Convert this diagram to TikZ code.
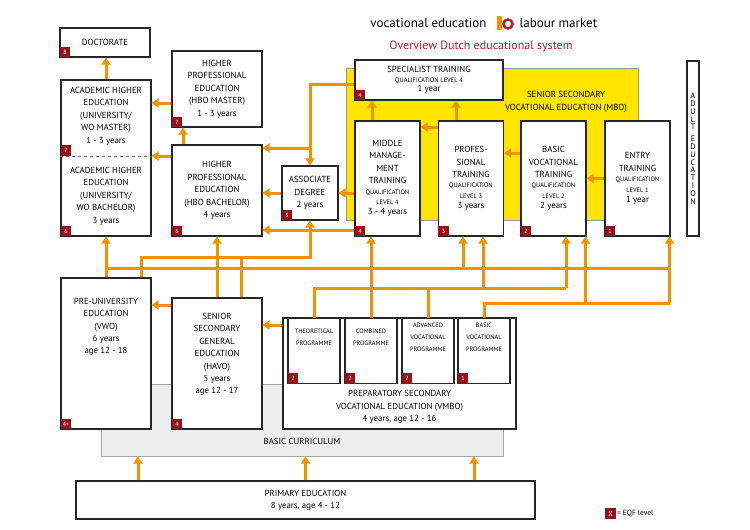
\documentclass[tikz,border=0pt]{standalone}
\usepackage{fontspec}
\setmainfont{PT Sans}
\usetikzlibrary{arrows.meta,positioning}
\definecolor{eduorange}{RGB}{243,146,0}
\definecolor{eqfred}{RGB}{150,20,25}
\definecolor{mboyellow}{RGB}{255,229,0}
\definecolor{titlered}{RGB}{180,30,40}
\newcommand{\qual}[1]{{\fontsize{6.4}{10}\selectfont #1}}
\tikzset{
  edu box/.style={draw=black!85,line width=1.1pt,fill=white,align=center,
    font=\fontsize{8.8}{12.4}\selectfont,inner sep=1pt},
  prog box/.style={edu box,minimum width=52pt,minimum height=65pt,anchor=north,
    font=\fontsize{6.3}{12}\selectfont,text depth=28pt},
  eqf/.style={fill=eqfred,text=white,font=\fontsize{6}{6}\selectfont,
    minimum size=10.5pt,inner sep=0pt,anchor=south west},
  flow/.style={draw=eduorange,line width=3pt},
  arr/.style={flow,-{Triangle[length=7pt,width=9pt]}},
}
\begin{document}
\begin{tikzpicture}[x=1pt,y=-1pt]
\useasboundingbox (0,0) rectangle (750,530);

% titles
\node[font=\fontsize{13}{13}\selectfont,anchor=east] (t1) at (490,23) {vocational education};
\node[font=\fontsize{13}{13}\selectfont,anchor=west] (t2) at (516,23) {labour market};
\fill[eduorange] (497,16) rectangle (502,30);
\draw[titlered,line width=2.5pt] (508,24) circle (4.5);
\node[font=\fontsize{12}{12}\selectfont,text=titlered] (t3) at (481,46) {Overview Dutch educational system};

% backgrounds
\node[fill=mboyellow,draw=black!40,minimum width=292pt,minimum height=152pt] (mbo) at (492,144) {};
\node[align=center,font=\fontsize{8.8}{12.4}\selectfont] (mbotxt) at (566,102) {SENIOR SECONDARY\\VOCATIONAL EDUCATION (MBO)};
\node[fill=black!7,draw=black!35,line width=1pt,minimum width=402pt,minimum height=72pt] (curr) at (302,420) {};
\node[font=\fontsize{8.8}{12.4}\selectfont] (currtxt) at (302,441) {BASIC CURRICULUM};

% higher education
\node[edu box,minimum width=90pt,minimum height=29pt] (doc) at (105,42.5) {DOCTORATE};
\node[edu box,minimum width=90pt,minimum height=156pt] (acad) at (106,158) {};
\node[align=center,font=\fontsize{8.8}{12.4}\selectfont] (wom) at (106,116) {ACADEMIC HIGHER\\EDUCATION\\(UNIVERSITY/\\WO MASTER)\\1 - 3 years};
\node[align=center,font=\fontsize{8.8}{12.4}\selectfont] (wob) at (106,196) {ACADEMIC HIGHER\\EDUCATION\\(UNIVERSITY/\\WO BACHELOR)\\3 years};
\draw[dashed,black!60] (acad.west |- 0,156) -- (acad.east |- 0,156);
\node[edu box,minimum width=90pt,minimum height=76pt] (hbom) at (217,89) {HIGHER\\PROFESSIONAL\\EDUCATION\\(HBO MASTER)\\1 - 3 years};
\node[edu box,minimum width=90pt,minimum height=91pt] (hbob) at (217,190.5) {HIGHER\\PROFESSIONAL\\EDUCATION\\(HBO BACHELOR)\\4 years};
\node[edu box,minimum width=56pt,minimum height=54pt] (assoc) at (310,193) {ASSOCIATE\\DEGREE\\2 years};

% mbo
\node[edu box,minimum width=148pt,minimum height=40pt] (spec) at (429,80) {SPECIALIST TRAINING\\[-3pt]\qual{QUALIFICATION LEVEL 4}\\[-3pt]1 year};
\node[edu box,minimum width=65pt,minimum height=115pt] (mid) at (387.5,178.5) {MIDDLE\\MANAGE-\\MENT\\TRAINING\\[-2pt]\qual{QUALIFICATION}\\[-2pt]\qual{LEVEL 4}\\[-2pt]3 - 4 years};
\node[edu box,minimum width=65pt,minimum height=115pt] (prof) at (471,178.5) {PROFES-\\SIONAL\\TRAINING\\[-2pt]\qual{QUALIFICATION}\\[-2pt]\qual{LEVEL 3}\\[-2pt]3 years};
\node[edu box,minimum width=65pt,minimum height=115pt] (basic) at (553.5,178.5) {BASIC\\VOCATIONAL\\TRAINING\\[-2pt]\qual{QUALIFICATION}\\[-2pt]\qual{LEVEL 2}\\[-2pt]2 years};
\node[edu box,minimum width=65pt,minimum height=115pt] (entry) at (637.5,178.5) {ENTRY\\TRAINING\\[-2pt]\qual{QUALIFICATION}\\[-2pt]\qual{LEVEL 1}\\[-2pt]1 year};
\node[edu box,minimum width=12pt,minimum height=175pt,font=\fontsize{8}{7.8}\selectfont] (adult) at (693,148.5) {A\\D\\U\\L\\T\\[4pt]E\\D\\U\\C\\A\\T\\I\\O\\N};

% secondary and primary
\node[edu box,minimum width=90pt,minimum height=151pt,text depth=55pt] (vwo) at (106,353.5) {PRE-UNIVERSITY\\EDUCATION\\(VWO)\\6 years\\age 12 - 18};
\node[edu box,minimum width=90pt,minimum height=131pt,text depth=20pt] (havo) at (217,363.5) {SENIOR\\SECONDARY\\GENERAL\\EDUCATION\\(HAVO)\\5 years\\age 12 - 17};
\node[edu box,minimum width=233pt,minimum height=111pt] (vmbo) at (399.5,373.5) {};
\node[align=center,font=\fontsize{8.8}{12.4}\selectfont] (vmbotxt) at (399.5,407) {PREPARATORY SECONDARY\\VOCATIONAL EDUCATION (VMBO)\\4 years, age 12 - 16};
\node[prog box] (theo) at (314,318) {THEORETICAL\\PROGRAMME};
\node[prog box] (comb) at (371,318) {COMBINED\\PROGRAMME};
\node[prog box] (adv) at (428,318) {ADVANCED\\VOCATIONAL\\PROGRAMME};
\node[prog box] (bvp) at (484,318) {BASIC\\VOCATIONAL\\PROGRAMME};
\node[edu box,minimum width=459pt,minimum height=38pt] (prim) at (305.5,500) {PRIMARY EDUCATION\\8 years, age 4 - 12};

% eqf levels
\node[eqf] (e1) at (doc.south west) {8};
\node[eqf] (e2) at (acad.west |- 0,156) {7};
\node[eqf] (e3) at (acad.south west) {6};
\node[eqf] (e4) at (hbom.south west) {7};
\node[eqf] (e5) at (hbob.south west) {6};
\node[eqf] (e6) at (assoc.south west) {5};
\node[eqf] (e7) at (spec.south west) {4};
\node[eqf] (e8) at (mid.south west) {4};
\node[eqf] (e9) at (prof.south west) {3};
\node[eqf] (e10) at (basic.south west) {2};
\node[eqf] (e11) at (entry.south west) {1};
\node[eqf] (e12) at (vwo.south west) {4+};
\node[eqf] (e13) at (havo.south west) {4};
\node[eqf] (e14) at (theo.south west) {2};
\node[eqf] (e15) at (comb.south west) {2};
\node[eqf] (e16) at (adv.south west) {2};
\node[eqf] (e17) at (bvp.south west) {1};
\node[eqf,minimum size=10.5pt,font=\fontsize{7}{7}\selectfont] (lgd) at (605,519) {X};
\node[anchor=west,font=\fontsize{7.5}{7.5}\selectfont,inner sep=1pt] (lgdtxt) at (lgd.east) {= EQF level};

% junctions
\coordinate (j1) at (310,148);
\coordinate (j2) at (310,230);
\coordinate (l1) at (0,257);
\coordinate (l2) at (0,268);
\coordinate (l3) at (0,288);
\coordinate (l4) at (0,303);

% higher education flows
\draw[arr] (acad.north) -- (acad.north |- doc.south);
\draw[arr] ([yshift=-14pt]hbom.west) -- ([yshift=-14pt]hbom.west -| acad.east);
\draw[arr] ([yshift=34.5pt]hbob.west) -- ([yshift=34.5pt]hbob.west -| acad.east);
\draw[arr] ([xshift=-34pt]hbob.north) -- ([xshift=-34pt]hbom.south);
\draw[arr] ([yshift=-4pt]spec.west) -| (assoc.north);
\draw[arr] (j1) -- (j1 -| hbob.east);
\draw[arr] (assoc.east -| mid.west) -- (assoc.east);
\draw[arr] (assoc.west) -- (assoc.west -| hbob.east);
\draw[arr] (j2 -| mid.west) -- (j2 -| hbob.east);
\draw[arr] (j2) -- (assoc.south);

% mbo flows
\draw[arr] ([xshift=-15.5pt]mid.north) -- ([xshift=-15.5pt]mid.north |- spec.south);
\draw[arr] ([xshift=-15pt]prof.north) -- ([xshift=-15pt]prof.north |- spec.south);
\draw[arr] ([yshift=51.5pt]prof.west) -- ([yshift=51.5pt]prof.west -| mid.east);
\draw[arr] ([yshift=25.5pt]basic.west) -- ([yshift=25.5pt]basic.west -| prof.east);
\draw[arr] (entry.west) -- (entry.west -| basic.east);

% secondary flows
\draw[flow] ([xshift=35pt]vwo.north) |- (j2 |- l1) -- (j2);
\draw[flow] ([xshift=24pt]havo.north) -- ([xshift=24pt]havo.north |- l1);
\draw[flow] (acad.south |- l2) -- ([xshift=32pt]entry.south |- l2);
\draw[arr] (vwo.north) -- (acad.south);
\draw[arr] (havo.north) -- (hbob.south);
\draw[arr] ([xshift=-8pt]prof.south |- l2) -- ([xshift=-8pt]prof.south);
\draw[flow] (theo.north) |- ([xshift=12.5pt]basic.south |- l3);
\draw[flow] (adv.north) -- (adv.north |- l3);
\draw[arr] ([xshift=12pt]prof.south |- l3) -- ([xshift=12pt]prof.south);
\draw[arr] ([xshift=12.5pt]basic.south |- l3) -- ([xshift=12.5pt]basic.south);
\draw[flow] (bvp.north) |- ([xshift=32pt]entry.south |- l4);
\draw[arr] ([xshift=32pt]entry.south |- l4) -- ([xshift=32pt]entry.south);
\draw[arr] ([xshift=32pt]basic.south |- l4) -- ([xshift=32pt]basic.south);
\draw[arr] (comb.north) -- (comb.north |- mid.south);
\draw[arr] ([yshift=48.5pt]vmbo.west) -- ([yshift=48.5pt]vmbo.west -| havo.east);
\draw[arr] ([yshift=58.5pt]havo.west) -- ([yshift=58.5pt]havo.west -| vwo.east);
\draw[arr] ([xshift=-167.5pt]prim.north) -- ([xshift=-167.5pt]prim.north |- curr.south);
\draw[arr] (prim.north) -- (prim.north |- curr.south);
\draw[arr] ([xshift=168.5pt]prim.north) -- ([xshift=168.5pt]prim.north |- curr.south);
\end{tikzpicture}
\end{document}
